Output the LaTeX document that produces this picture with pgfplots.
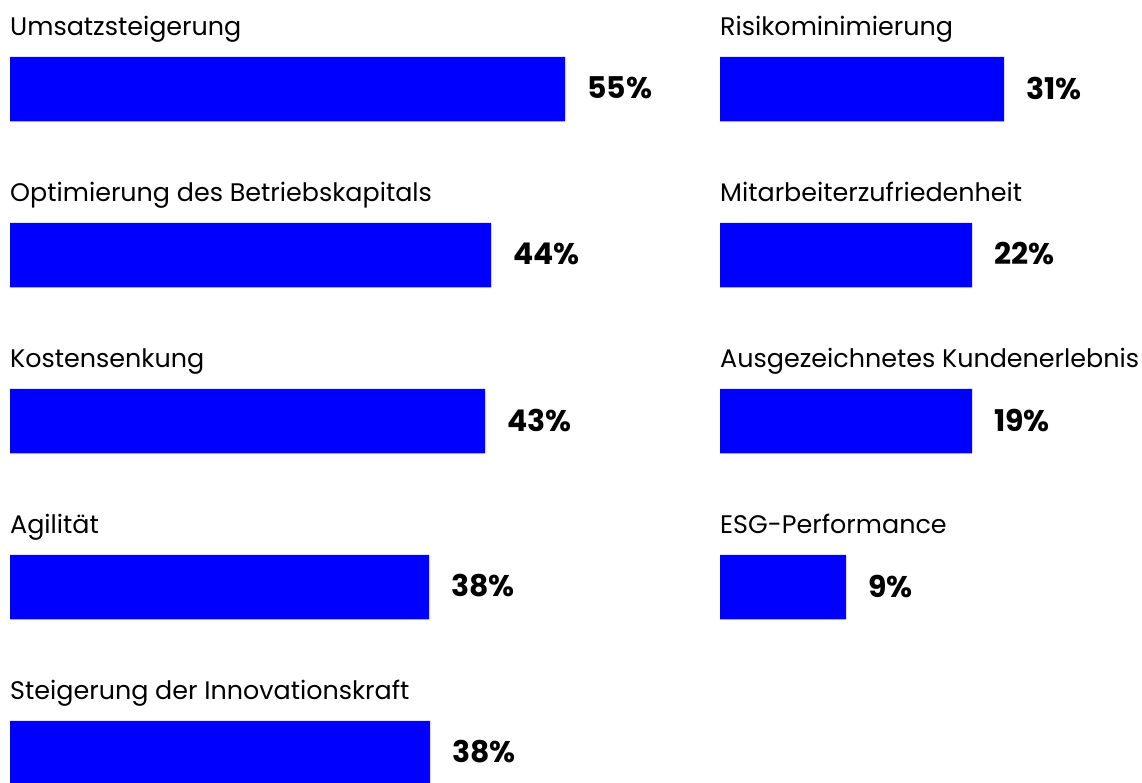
\documentclass[border=0pt]{standalone}
\usepackage{fontspec}
\setmainfont{Poppins}
\usepackage{pgfplots}
\pgfplotsset{compat=1.18}
\definecolor{barblue}{HTML}{0000FF}

% one column of labelled horizontal bars; 1 unit = 10bp of bar length
\pgfplotsset{
  rowchart/.style={
    xbar, y dir=reverse, scale only axis,
    xmin=0, ymin=-0.5, ymax=4.5,
    height=830bp,
    axis line style={draw=none},
    major tick length=0pt,
    xtick=\empty,
    ytick={0,...,4},
    bar width=64.5bp, bar shift=0pt,
    yticklabel style={anchor=base west, inner sep=0pt, yshift=54bp,
      font=\fontsize{25.5}{30}\selectfont, black},
    point meta=explicit,
    nodes near coords={\pgfmathprintnumber[assume math mode=true]{\pgfplotspointmeta}\%},
    every node near coord/.append style={anchor=west, inner sep=0pt, xshift=22bp,
      yshift=1bp, font=\fontsize{30}{30}\selectfont\bfseries, black},
    clip=false,
  }
}

\begin{document}
\begin{tikzpicture}
\begin{axis}[rowchart, at={(10bp,-6bp)}, anchor=north west,
  width=690bp, xmax=69,
  yticklabels={Umsatzsteigerung, Optimierung des Betriebskapitals,
    Kostensenkung, Agilität, Steigerung der Innovationskraft}]
  % bar length as drawn, [share in %]
  \addplot[fill=barblue, draw=none] coordinates {
    (55.5,0) [55]
    (48.1,1) [44]
    (47.5,2) [43]
    (41.9,3) [38]
    (42.0,4) [38]
  };
\end{axis}
\begin{axis}[rowchart, at={(720bp,-6bp)}, anchor=north west,
  width=422bp, xmax=42.2,
  ytick={0,...,3},
  yticklabels={Risikominimierung, Mitarbeiterzufriedenheit,
    Ausgezeichnetes Kundenerlebnis, ESG-Performance}]
  \addplot[fill=barblue, draw=none] coordinates {
    (28.4,0) [31]
    (25.2,1) [22]
    (25.2,2) [19]
    (12.6,3) [9]
  };
\end{axis}
\pgfresetboundingbox
\useasboundingbox (0,0) rectangle (1142bp,-783bp);
\end{tikzpicture}
\end{document}
